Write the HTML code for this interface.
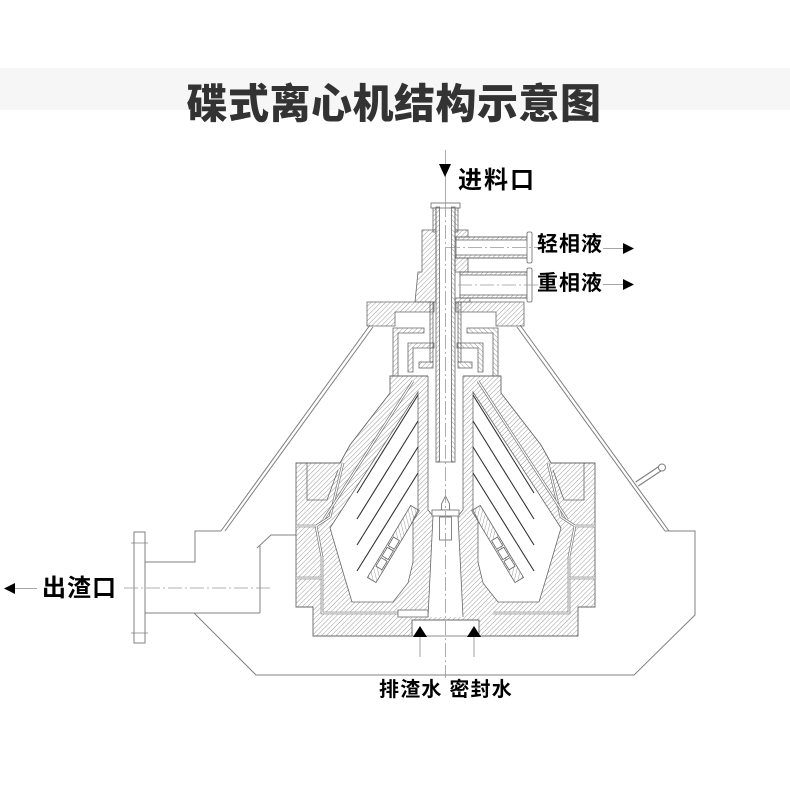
<!DOCTYPE html>
<html><head><meta charset="utf-8">
<style>
html,body{margin:0;padding:0;background:#fff;}
svg{display:block;}
text{font-family:"Liberation Sans","Noto Sans CJK SC",sans-serif;font-weight:bold;}
</style></head><body>
<svg width="790" height="790" viewBox="0 0 790 790" xmlns="http://www.w3.org/2000/svg">
<defs>
<pattern id="h" width="3.4" height="3.4" patternUnits="userSpaceOnUse" patternTransform="rotate(45)">
<line x1="0" y1="0" x2="0" y2="3.4" stroke="#8a8a8a" stroke-width="0.85"/>
</pattern>
</defs>
<rect width="790" height="790" fill="#fff"/>
<rect x="0" y="68" width="790" height="42" fill="#f6f6f6"/>
<text x="394" y="118" font-size="41" fill="#333" text-anchor="middle" style="font-weight:900" letter-spacing="0.5">碟式离心机结构示意图</text>

<!-- outer casing -->
<g fill="none" stroke="#808080" stroke-width="1">
<path d="M145,562 L195,562 L195,531 L221,531"/>
<path d="M221,531 L370,325 M225,531 L373,327"/>
<path d="M520,325 L669,531 M517,327 L665,531"/>
<path d="M665,531 L695,531 L695,615 L634,675 L256,675 L194,613 L145,613"/>
<path d="M145,613 L260,613 M260,546 L260,613 M257,548 L271,535 L296,535"/>
<rect x="134" y="532" width="11" height="111"/>
<path d="M131,543 L148,543 M131,633 L148,633" stroke-width="0.7"/>
</g>
<path d="M124,588 L270,588" stroke="#999" stroke-width="0.8" stroke-dasharray="14,3,2,3" fill="none"/>
<!-- nozzle on right hood -->
<line x1="637" y1="484" x2="661" y2="468" stroke="#808080" stroke-width="6"/>
<line x1="637" y1="484" x2="661" y2="468" stroke="#fff" stroke-width="3.6"/>
<circle cx="662" cy="467.5" r="3.5" fill="#fff" stroke="#808080" stroke-width="1"/>

<!-- top plates -->
<g fill="url(#h)" stroke="#666" stroke-width="0.8">
<path d="M367,302 L434,302 L434,312 L395,312 L395,326 L367,326 Z"/>
<path d="M456,302 L524,302 L524,326 L496,326 L496,312 L456,312 Z"/>
<path d="M422,230 L436,230 L436,302 L415,302 L418,272 L422,272 Z"/>
<rect x="455" y="230" width="13" height="7"/>
<rect x="455" y="258" width="13" height="14"/>
<rect x="455" y="298" width="15" height="4"/>
</g>
<!-- pipes -->
<g stroke="#666" stroke-width="0.8">
<rect x="456" y="237" width="72" height="21" fill="#fff"/>
<rect x="456" y="237" width="72" height="3" fill="url(#h)"/>
<rect x="456" y="255" width="72" height="3" fill="url(#h)"/>
<rect x="527" y="232" width="5" height="31" rx="1.5" fill="#fff"/>
<rect x="460" y="272" width="68" height="26" fill="#fff"/>
<rect x="460" y="272" width="68" height="3" fill="url(#h)"/>
<rect x="460" y="295" width="68" height="3" fill="url(#h)"/>
<rect x="527" y="268" width="5" height="34" rx="1.5" fill="#fff"/>
</g>
<g stroke="#999" stroke-width="0.8" stroke-dasharray="14,3,2,3" fill="none">
<path d="M446,247.5 L540,247.5"/>
<path d="M458,285 L540,285"/>
</g>
<rect x="431" y="203" width="29" height="5" fill="#fff" stroke="#666" stroke-width="0.8"/>

<!-- bowl housing union -->
<path d="M390,376 L390,393 L350,445 L340,463 L296,463 L296,607 L313,607 L313,636 L412,636 L412,620 L479,620 L479,636 L578,636 L578,607 L595,607 L595,463 L551,463 L541,445 L501,393 L501,376 Z" fill="url(#h)" stroke="#666" stroke-width="0.9"/>
<!-- central white -->
<path d="M428,375 L463,375 L463,510 L458,516 L463,617 L428,617 L433,516 L428,510 Z" fill="#fff"/>

<!-- left half details -->
<g>
<path d="M418,392 L330,528 L343,572 L352,602 L393,602 L408,583 L413,562 L413,520 L418,510 Z" fill="#fff" stroke="#666" stroke-width="0.8"/>
<g fill="none">
<path d="M343,463 L330,517 L316,526 L322,557 L322,613 L398,613" stroke="#777" stroke-width="2.6"/>
<path d="M343,463 L330,517 L316,526 L322,557 L322,613 L398,613" stroke="#fff" stroke-width="1.2"/>
<path d="M413,381 L324,519" stroke="#777" stroke-width="2.6"/>
<path d="M413,381 L324,519" stroke="#fff" stroke-width="1.2"/>
<path d="M296,526 H316 M296,578 H322" stroke="#777" stroke-width="2.6"/>
<path d="M296,526 H316 M296,578 H322" stroke="#fff" stroke-width="1.2"/>
<path d="M307,463 V500 H327 L338,470" stroke="#666" stroke-width="0.8"/>
</g>
<g stroke="#333" stroke-width="1.1">
<line x1="418" y1="395" x2="357" y2="493"/>
<line x1="418" y1="421" x2="357" y2="519"/>
<line x1="418" y1="447" x2="357" y2="545"/>
<line x1="418" y1="473" x2="357" y2="571"/>
</g>
<g transform="translate(415,508) rotate(121)" stroke="#666" stroke-width="0.8">
<rect x="0" y="-5" width="84" height="10" fill="url(#h)"/>
<rect x="36" y="-3.5" width="10" height="7" fill="#fff"/>
<rect x="48" y="-3.5" width="10" height="7" fill="#fff"/>
<rect x="60" y="-3.5" width="10" height="7" fill="#fff"/>
</g>
<g fill="url(#h)" stroke="#666" stroke-width="0.8">
<path d="M393,328 H424 V333 H398 V376 H393 Z"/>
<path d="M408,343 H434 V348 H413 V372 H408 Z"/>
<rect x="419" y="362" width="14" height="6"/>
<rect x="430" y="302" width="3" height="60"/>
<rect x="436" y="207" width="3.5" height="255"/>
<rect x="433" y="208" width="3" height="24"/>
</g>
<path d="M428,376 V510 L433,516 L428,617" fill="none" stroke="#666" stroke-width="0.8"/>
<rect x="398" y="610" width="30" height="7" fill="#fff" stroke="#666" stroke-width="0.8"/>
</g>

<!-- right half (mirror) -->
<g transform="translate(891,0) scale(-1,1)">
<path d="M418,392 L330,528 L343,572 L352,602 L393,602 L408,583 L413,562 L413,520 L418,510 Z" fill="#fff" stroke="#666" stroke-width="0.8"/>
<g fill="none">
<path d="M343,463 L330,517 L316,526 L322,557 L322,613 L398,613" stroke="#777" stroke-width="2.6"/>
<path d="M343,463 L330,517 L316,526 L322,557 L322,613 L398,613" stroke="#fff" stroke-width="1.2"/>
<path d="M413,381 L324,519" stroke="#777" stroke-width="2.6"/>
<path d="M413,381 L324,519" stroke="#fff" stroke-width="1.2"/>
<path d="M296,526 H316 M296,578 H322" stroke="#777" stroke-width="2.6"/>
<path d="M296,526 H316 M296,578 H322" stroke="#fff" stroke-width="1.2"/>
<path d="M307,463 V500 H327 L338,470" stroke="#666" stroke-width="0.8"/>
</g>
<g stroke="#333" stroke-width="1.1">
<line x1="418" y1="395" x2="357" y2="493"/>
<line x1="418" y1="421" x2="357" y2="519"/>
<line x1="418" y1="447" x2="357" y2="545"/>
<line x1="418" y1="473" x2="357" y2="571"/>
</g>
<g transform="translate(415,508) rotate(121)" stroke="#666" stroke-width="0.8">
<rect x="0" y="-5" width="84" height="10" fill="url(#h)"/>
<rect x="36" y="-3.5" width="10" height="7" fill="#fff"/>
<rect x="48" y="-3.5" width="10" height="7" fill="#fff"/>
<rect x="60" y="-3.5" width="10" height="7" fill="#fff"/>
</g>
<g fill="url(#h)" stroke="#666" stroke-width="0.8">
<path d="M393,328 H424 V333 H398 V376 H393 Z"/>
<path d="M408,343 H434 V348 H413 V372 H408 Z"/>
<rect x="419" y="362" width="14" height="6"/>
<rect x="430" y="302" width="3" height="60"/>
<rect x="436" y="207" width="3.5" height="255"/>
<rect x="433" y="208" width="3" height="24"/>
</g>
<path d="M428,376 V510 L433,516 L428,617" fill="none" stroke="#666" stroke-width="0.8"/>
</g>

<!-- center details -->
<line x1="436" y1="462" x2="455" y2="462" stroke="#666" stroke-width="0.8"/>
<path d="M445.5,496 L449.5,504 L449.5,510 L441.5,510 L441.5,504 Z" fill="#fff" stroke="#666" stroke-width="0.8"/>
<rect x="432" y="510" width="27" height="6" fill="#fff" stroke="#666" stroke-width="0.8"/>
<rect x="439.5" y="517" width="12" height="23" fill="#fff" stroke="#666" stroke-width="0.8"/>
<line x1="412" y1="636" x2="479" y2="636" stroke="#666" stroke-width="0.8"/>
<line x1="445.5" y1="150" x2="445.5" y2="203" stroke="#999" stroke-width="0.8"/>
<line x1="445.5" y1="203" x2="445.5" y2="678" stroke="#999" stroke-width="0.8" stroke-dasharray="14,3,2,3"/>

<!-- arrows -->
<g fill="#000">
<path d="M439,164 L451,164 L445,177 Z"/>
<path d="M623,243 L623,254 L634,248.5 Z"/>
<path d="M623,279 L623,290 L634,284.5 Z"/>
<path d="M4,588.5 L15,583 L15,594 Z"/>
<path d="M413,637 L427,637 L420,626 Z"/>
<path d="M467,637 L481,637 L474,626 Z"/>
</g>
<g stroke="#888" stroke-width="0.8">
<line x1="603" y1="248.5" x2="623" y2="248.5"/>
<line x1="603" y1="284.5" x2="623" y2="284.5"/>
<line x1="15" y1="588.5" x2="37" y2="588.5"/>
<line x1="420" y1="637" x2="420" y2="657"/>
<line x1="474" y1="637" x2="474" y2="657"/>
</g>

<!-- labels -->
<text x="458" y="188" font-size="24" fill="#000" letter-spacing="2">进料口</text>
<text x="537" y="251" font-size="21" fill="#000" letter-spacing="1">轻相液</text>
<text x="537" y="290" font-size="21" fill="#000" letter-spacing="1">重相液</text>
<text x="42" y="596" font-size="24" fill="#000" letter-spacing="1">出渣口</text>
<text x="379" y="696" font-size="20" fill="#000" letter-spacing="1.2">排渣水 密封水</text>
</svg>
</body></html>
